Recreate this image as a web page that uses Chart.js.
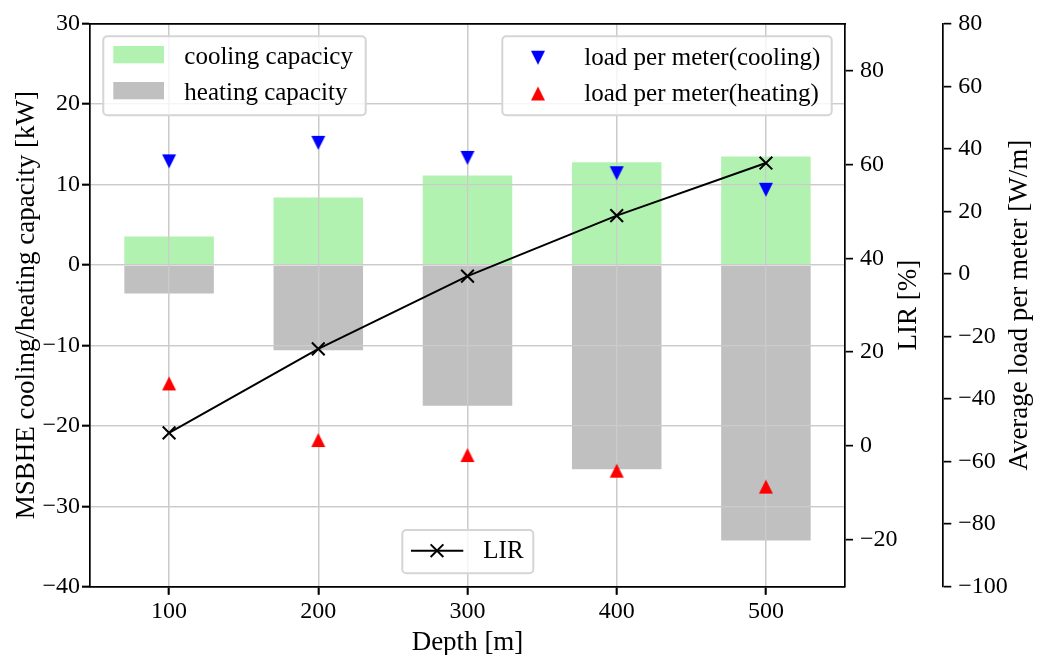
<!DOCTYPE html>
<html>
<head>
<meta charset="utf-8">
<script src="https://cdn.jsdelivr.net/npm/chart.js@4.4.1/dist/chart.umd.min.js"></script>
<style>
  html, body { margin: 0; padding: 0; background: #fff; }
  #wrap { width: 1048px; height: 655px; }
</style>
</head>
<body>
<div id="wrap"><canvas id="chart" width="1048" height="655"></canvas></div>
<script>
// depth of the borehole heat exchanger [m]
const depths = [100, 200, 300, 400, 500];
// capacities [kW]
const coolingCapacity = [3.53, 8.39, 11.13, 12.76, 13.5];
const heatingCapacity = [-3.54, -10.6, -17.5, -25.4, -34.25];
// LIR [%]
const lirPercent = [2.8, 20.7, 36.2, 49.1, 60.3];
// average load per meter [W/m]
const loadCooling = [36.0, 41.9, 37.1, 32.2, 26.9];
const loadHeating = [-35.0, -53.1, -57.9, -62.9, -68.0];

const depthTicks = [100, 200, 300, 400, 500];
const capTicks = [-40, -30, -20, -10, 0, 10, 20, 30];
const lirTicks = [-20, 0, 20, 40, 60, 80];
const loadTicks = [-100, -80, -60, -40, -20, 0, 20, 40, 60, 80];

const SERIF = "'Liberation Serif', 'Times New Roman', serif";
const GREEN = '#b1f2b1';
const GREY = '#c0c0c0';
const GRID = '#cbcbcb';
const AXIS_W = 1.7;

Chart.defaults.font.family = SERIF;
Chart.defaults.color = '#000';

const pts = ys => depths.map((x, i) => ({ x, y: ys[i] }));
const fmt = v => (v < 0 ? '\u2212' + Math.abs(v) : String(v));
const setTicks = list => scale => { scale.ticks = list.map(value => ({ value })); };
const fixWidth = w => scale => { scale.width = w; };
const fixHeight = h => scale => { scale.height = h; };

// matplotlib-like triangle markers (v / ^)
function triangle(down, color) {
  const c = document.createElement('canvas');
  c.width = 16; c.height = 16;
  const g = c.getContext('2d');
  g.fillStyle = color;
  g.beginPath();
  if (down) { g.moveTo(1, 1); g.lineTo(15, 1); g.lineTo(8, 15); }
  else { g.moveTo(8, 1); g.lineTo(15, 15); g.lineTo(1, 15); }
  g.closePath();
  g.fill();
  return c;
}
const triDown = triangle(true, '#0000ff');
const triUp = triangle(false, '#ff0000');

const tickFont = { family: SERIF, size: 24 };

function axisGrid(onArea) {
  return {
    display: true,
    offset: false,
    drawOnChartArea: onArea,
    color: GRID,
    lineWidth: 1.3,
    drawTicks: true,
    tickLength: 8,
    tickColor: '#000',
    tickWidth: AXIS_W
  };
}
const spine = { display: true, color: '#000', width: AXIS_W, z: 1 };

// grid goes over the bars but under the line and markers
const gridAboveBars = {
  id: 'gridAboveBars',
  afterDatasetDraw(chart, args) {
    if (args.index !== 0) return;
    chart.scales.x.drawGrid(chart.chartArea);
    chart.scales.y.drawGrid(chart.chartArea);
  }
};

function roundBox(ctx, x, y, w, h, r) {
  ctx.beginPath();
  ctx.moveTo(x + r, y);
  ctx.arcTo(x + w, y, x + w, y + h, r);
  ctx.arcTo(x + w, y + h, x, y + h, r);
  ctx.arcTo(x, y + h, x, y, r);
  ctx.arcTo(x, y, x + w, y, r);
  ctx.closePath();
  ctx.fillStyle = 'rgba(255,255,255,0.8)';
  ctx.fill();
  ctx.lineWidth = 2;
  ctx.strokeStyle = '#d5d5d5';
  ctx.stroke();
}

function vText(ctx, text, x, y) {
  ctx.save();
  ctx.translate(x, y);
  ctx.rotate(-Math.PI / 2);
  ctx.textAlign = 'center';
  ctx.textBaseline = 'alphabetic';
  ctx.fillText(text, 0, 0);
  ctx.restore();
}

const titlesAndLegends = {
  id: 'titlesAndLegends',
  afterDraw(chart) {
    const { ctx, chartArea: a } = chart;
    const midY = (a.top + a.bottom) / 2;
    ctx.save();
    ctx.fillStyle = '#000';
    ctx.font = `27px ${SERIF}`;
    vText(ctx, 'MSBHE cooling/heating capacity [kW]', 34, midY);
    vText(ctx, 'LIR [%]', 916, midY);
    vText(ctx, 'Average load per meter [W/m]', 1026.5, midY);
    ctx.textAlign = 'center';
    ctx.textBaseline = 'alphabetic';
    ctx.fillText('Depth [m]', (a.left + a.right) / 2, 650);

    const ds = chart.data.datasets;
    ctx.font = `25px ${SERIF}`;
    ctx.textAlign = 'left';

    // bars legend, upper left
    roundBox(ctx, 103.3, 36.3, 262.4, 79, 4);
    ctx.fillStyle = GREEN;
    ctx.fillRect(113.3, 46, 50.7, 17.3);
    ctx.fillStyle = GREY;
    ctx.fillRect(113.3, 82, 50.7, 17.3);
    ctx.fillStyle = '#000';
    ctx.fillText(ds[0].label, 184.3, 64);
    ctx.fillText(ds[1].label, 184.3, 100);

    // markers legend, upper right
    roundBox(ctx, 502.3, 36.3, 329.4, 79, 4);
    ctx.drawImage(triDown, 538 - 8, 57.7 - 8);
    ctx.drawImage(triUp, 538 - 8, 93.5 - 8);
    ctx.fillStyle = '#000';
    ctx.fillText(ds[3].label, 584.3, 64.5);
    ctx.fillText(ds[4].label, 584.3, 100.5);

    // LIR legend, lower center
    roundBox(ctx, 402.3, 530, 131, 43.3, 4);
    ctx.strokeStyle = '#000';
    ctx.lineWidth = 2;
    ctx.beginPath();
    ctx.moveTo(411, 550.7);
    ctx.lineTo(463.3, 550.7);
    ctx.stroke();
    Chart.helpers.drawPoint(ctx, { pointStyle: 'crossRot', radius: 9, rotation: 0, borderWidth: 2 }, 437, 550.7);
    ctx.fillStyle = '#000';
    ctx.fillText(ds[2].label, 483.3, 558.3);
    ctx.restore();
  }
};

new Chart(document.getElementById('chart'), {
  type: 'scatter',
  data: {
    datasets: [
      {
        type: 'bar', label: 'cooling capacicy', data: pts(coolingCapacity),
        backgroundColor: GREEN, borderWidth: 0, yAxisID: 'y',
        grouped: false, barPercentage: 0.6, categoryPercentage: 1, order: 2
      },
      {
        type: 'bar', label: 'heating capacity', data: pts(heatingCapacity),
        backgroundColor: GREY, borderWidth: 0, yAxisID: 'y',
        grouped: false, barPercentage: 0.6, categoryPercentage: 1, order: 2
      },
      {
        type: 'line', label: 'LIR', data: pts(lirPercent), yAxisID: 'yLIR',
        borderColor: '#000', borderWidth: 2, tension: 0, fill: false,
        pointStyle: 'crossRot', pointRadius: 9, pointBorderWidth: 2,
        pointBorderColor: '#000', pointBackgroundColor: '#000', order: 0
      },
      {
        type: 'scatter', label: 'load per meter(cooling)', data: pts(loadCooling),
        yAxisID: 'yLoad', pointStyle: triDown, pointRadius: 7, order: 0
      },
      {
        type: 'scatter', label: 'load per meter(heating)', data: pts(loadHeating),
        yAxisID: 'yLoad', pointStyle: triUp, pointRadius: 7, order: 0
      }
    ]
  },
  options: {
    responsive: false,
    devicePixelRatio: 1,
    animation: false,
    layout: { padding: 0, autoPadding: false },
    plugins: { legend: { display: false }, tooltip: { enabled: false } },
    scales: {
      x: {
        type: 'linear', position: 'bottom', min: 47, max: 553, offset: false,
        afterBuildTicks: setTicks(depthTicks), afterFit: fixHeight(68.3),
        grid: axisGrid(true), border: spine,
        ticks: { font: tickFont, color: '#000', padding: 2.5, maxRotation: 0, autoSkip: false, callback: fmt }
      },
      xTop: {
        type: 'linear', position: 'top', min: 47, max: 553, offset: false,
        afterFit: fixHeight(23.7),
        grid: { display: false }, border: spine, ticks: { display: false }
      },
      y: {
        type: 'linear', position: 'left', min: -40, max: 30,
        afterBuildTicks: setTicks(capTicks), afterFit: fixWidth(90),
        grid: axisGrid(true), border: spine,
        ticks: { font: tickFont, color: '#000', padding: 2, autoSkip: false, callback: fmt }
      },
      yLIR: {
        type: 'linear', position: 'right', min: -30, max: 90, weight: 0,
        afterBuildTicks: setTicks(lirTicks), afterFit: fixWidth(98.3),
        grid: axisGrid(false), border: spine,
        ticks: { font: tickFont, color: '#000', padding: 7, autoSkip: false, callback: fmt }
      },
      yLoad: {
        type: 'linear', position: 'right', min: -100, max: 80, weight: 1,
        afterBuildTicks: setTicks(loadTicks), afterFit: fixWidth(104.7),
        grid: axisGrid(false), border: spine,
        ticks: { font: tickFont, color: '#000', padding: 7, autoSkip: false, callback: fmt }
      }
    }
  },
  plugins: [gridAboveBars, titlesAndLegends]
});
</script>
</body>
</html>
